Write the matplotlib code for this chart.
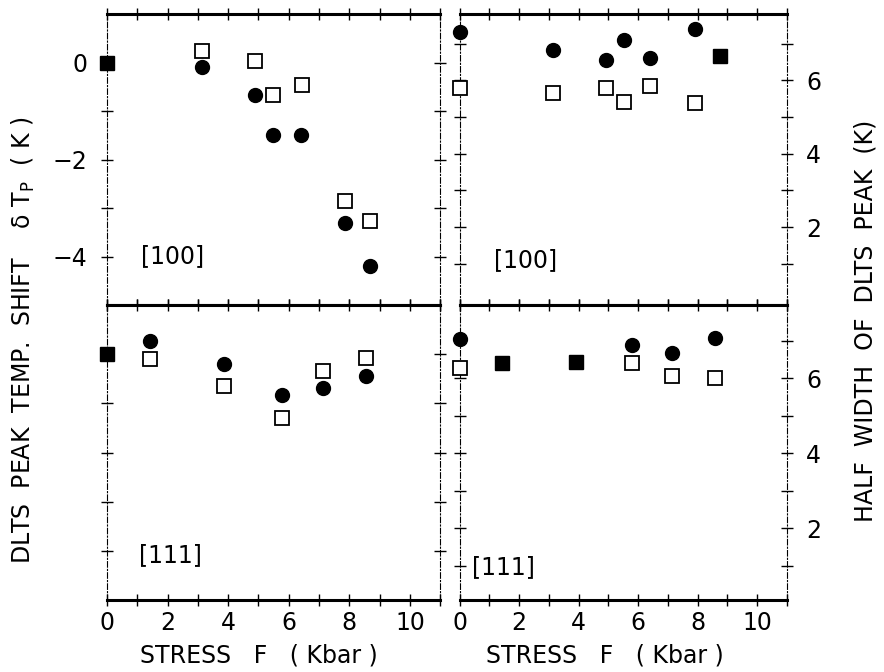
import matplotlib
matplotlib.use("Agg")
import matplotlib.pyplot as plt

# [100] peak temperature shift
tl_circ_x = [3.13, 4.88, 5.48, 6.40, 7.85, 8.68]
tl_circ_y = [-0.10, -0.67, -1.49, -1.49, -3.31, -4.20]
tl_open_x = [3.13, 4.88, 5.48, 6.43, 7.85, 8.68]
tl_open_y = [0.24, 0.04, -0.67, -0.47, -2.86, -3.27]
tl_fill_x = [0.0]
tl_fill_y = [0.0]

# [100] half width
tr_circ_x = [0.0, 3.15, 4.92, 5.53, 6.41, 7.90]
tr_circ_y = [7.30, 6.82, 6.56, 7.10, 6.60, 7.39]
tr_open_x = [0.0, 3.15, 4.92, 5.53, 6.41, 7.90]
tr_open_y = [5.80, 5.64, 5.80, 5.40, 5.84, 5.37]
tr_fill_x = [8.75]
tr_fill_y = [6.65]

# [111] peak temperature shift
bl_circ_x = [1.42, 3.86, 5.78, 7.13, 8.55]
bl_circ_y = [0.26, -0.20, -0.82, -0.69, -0.45]
bl_open_x = [1.42, 3.86, 5.78, 7.13, 8.55]
bl_open_y = [-0.10, -0.65, -1.29, -0.35, -0.07]
bl_fill_x = [0.0]
bl_fill_y = [0.0]

# [111] half width
br_circ_x = [0.0, 5.80, 7.15, 8.60]
br_circ_y = [7.04, 6.88, 6.67, 7.07]
br_open_x = [0.0, 5.80, 7.15, 8.60]
br_open_y = [6.27, 6.40, 6.05, 6.00]
br_fill_x = [1.42, 3.90]
br_fill_y = [6.40, 6.43]

x_ticks = list(range(0, 12))
x_labels = [str(t) if t % 2 == 0 and t <= 10 else "" for t in x_ticks]

plt.rcParams['font.family'] = ['DejaVu Sans']
fig = plt.figure(figsize=(8.84, 6.72), dpi=100)

ax_tl = fig.add_axes([0.121, 0.546, 0.377, 0.433])
ax_bl = fig.add_axes([0.121, 0.107, 0.377, 0.439])
ax_tr = fig.add_axes([0.520, 0.546, 0.370, 0.433])
ax_br = fig.add_axes([0.520, 0.107, 0.370, 0.439])


def style(ax, ylim, yticks, ylabels, side, show_x):
    ax.set_xlim(0, 11)
    ax.set_ylim(*ylim)
    ax.set_xticks(x_ticks)
    ax.set_xticklabels(x_labels if show_x else [""] * len(x_ticks))
    ax.set_yticks(yticks)
    ax.set_yticklabels(ylabels)
    for s in ['top', 'bottom']:
        ax.spines[s].set_linewidth(2.2)
    for s in ['left', 'right']:
        ax.spines[s].set_linewidth(0.8)
        ax.spines[s].set_linestyle((0, (5, 2, 1, 2)))
    ax.tick_params(direction='inout', length=8, width=1, top=True, right=True,
                   left=True, bottom=True, labelsize=17)
    ax.tick_params(axis='x', pad=4)
    ax.tick_params(axis='y', pad=10)
    if side == 'right':
        ax.tick_params(labelleft=False, labelright=True)


def draw(ax, cx, cy, ox, oy, fx, fy):
    ax.plot(cx, cy, 'o', ms=10, color='black', clip_on=False, zorder=3)
    ax.plot(ox, oy, 's', ms=10, mfc='white', mec='black', mew=1.3, clip_on=False, zorder=3)
    ax.plot(fx, fy, 's', ms=10, color='black', clip_on=False, zorder=4)


draw(ax_tl, tl_circ_x, tl_circ_y, tl_open_x, tl_open_y, tl_fill_x, tl_fill_y)
draw(ax_tr, tr_circ_x, tr_circ_y, tr_open_x, tr_open_y, tr_fill_x, tr_fill_y)
draw(ax_bl, bl_circ_x, bl_circ_y, bl_open_x, bl_open_y, bl_fill_x, bl_fill_y)
draw(ax_br, br_circ_x, br_circ_y, br_open_x, br_open_y, br_fill_x, br_fill_y)

left_ticks = [-4, -3, -2, -1, 0]
left_labels = ["\u22124", "", "\u22122", "", "0"]
right_ticks = [1, 2, 3, 4, 5, 6, 7]
right_labels = ["", "2", "", "4", "", "6", ""]

style(ax_tl, (-5, 1), left_ticks, left_labels, 'left', False)
style(ax_bl, (-5, 1), left_ticks, [""] * 5, 'left', True)
style(ax_tr, (-0.12, 7.8), right_ticks, right_labels, 'right', False)
style(ax_br, (0.08, 7.95), right_ticks, right_labels, 'right', True)

ax_tl.text(2.15, -4.0, "[100]", fontsize=17, ha='center', va='center')
ax_tr.text(2.2, 1.1, "[100]", fontsize=17, ha='center', va='center')
ax_bl.text(2.08, -4.08, "[111]", fontsize=17, ha='center', va='center')
ax_br.text(1.46, 0.96, "[111]", fontsize=17, ha='center', va='center')

fig.text(0.026, 0.494, "DLTS  PEAK  TEMP.  SHIFT    \u03b4 T$_\\mathrm{P}$  ( K )",
         rotation=90, fontsize=17, ha='center', va='center')
fig.text(0.979, 0.522, "HALF  WIDTH  OF  DLTS  PEAK  (K)",
         rotation=90, fontsize=17, ha='center', va='center')
fig.text(0.293, 0.025, "STRESS   F   ( Kbar )", fontsize=17, ha='center', va='center')
fig.text(0.684, 0.025, "STRESS   F   ( Kbar )", fontsize=17, ha='center', va='center')

fig.savefig("out.png", dpi=100)
